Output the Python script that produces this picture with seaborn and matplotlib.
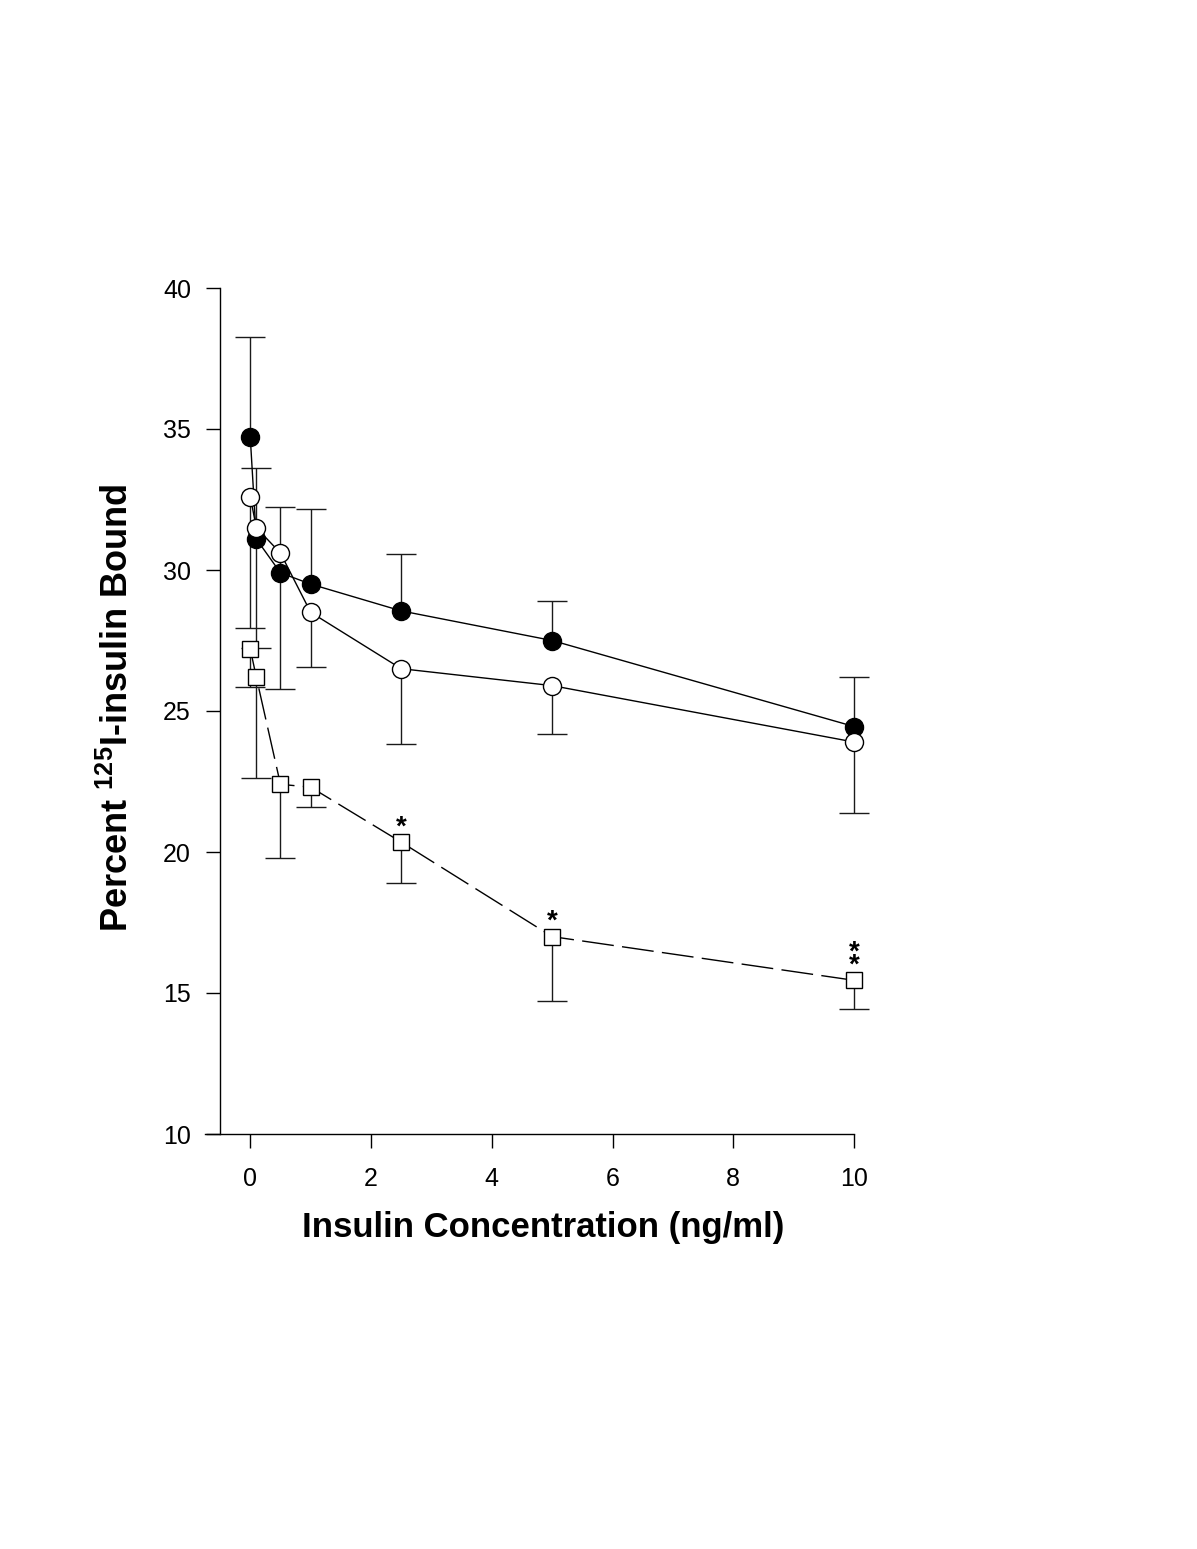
import numpy as np
import pandas as pd
import matplotlib
matplotlib.use('Agg')
import matplotlib.pyplot as plt
import seaborn as sns

# data
conc = [0, 0.1, 0.5, 1, 2.5, 5, 10]

filled_mean = [34.7, 31.1, 29.9, 29.5, 28.55, 27.5, 24.45]
filled_err_up = [3.57, 2.5, 2.32, 2.67, 2.03, 1.39, 1.77]

open_mean = [32.6, 31.5, 30.6, 28.5, 26.5, 25.9, 23.9]
open_err_down = [4.67, 4.25, 4.83, 1.93, 2.68, 1.73, 2.51]

square_mean = [27.2, 26.2, 22.4, 22.3, 20.35, 17.0, 15.45]
square_err_down = [1.34, 3.59, 2.61, 0.7, 1.46, 2.27, 1.03]

# significance marks on the square series: point index, number of stars
star_idx = [4, 5, 6]
star_count = [1, 1, 2]

x_ticks = [0, 2, 4, 6, 8, 10]
y_ticks = [10, 15, 20, 25, 30, 35, 40]

sns.set_style('ticks')
plt.rcParams['font.family'] = ['Liberation Sans', 'DejaVu Sans']
plt.rcParams['mathtext.fontset'] = 'custom'
plt.rcParams['mathtext.rm'] = 'Liberation Sans'
plt.rcParams['mathtext.bf'] = 'Liberation Sans:bold'
plt.rcParams['text.color'] = 'black'
plt.rcParams['axes.labelcolor'] = 'black'

W, H = 1197, 1549
fig = plt.figure(figsize=(W / 100, H / 100), dpi=100)
fig.patch.set_facecolor('white')
ax = fig.add_axes([205 / W, 1 - 1134 / H, (854 - 205) / W, (1134 - 288) / H])
ax.set_facecolor('white')

zeros = [0] * len(conc)
eb_kw = dict(fmt='none', ecolor='#1a1a1a', elinewidth=1.0, capsize=11, capthick=1.0, zorder=1)


def one_sided(mean, err, up):
    # one-sided error bars: hide the cap on the zero side
    yerr = [zeros, err] if up else [err, zeros]
    _, caps, bars = ax.errorbar(conc, mean, yerr=yerr, **eb_kw)
    caps[0 if up else 1].set_visible(False)
    for c in caps:
        c.set_clip_on(False)
    for b in bars:
        b.set_clip_on(False)


one_sided(filled_mean, filled_err_up, True)
one_sided(open_mean, open_err_down, False)
one_sided(square_mean, square_err_down, False)

df = pd.DataFrame({'conc': conc, 'filled': filled_mean, 'open': open_mean, 'square': square_mean})

sns.lineplot(data=df, x='conc', y='filled', ax=ax, color='black', lw=1.0,
             marker='o', markersize=13, markerfacecolor='black', markeredgecolor='black',
             markeredgewidth=1.0, zorder=3, clip_on=False)
sns.lineplot(data=df, x='conc', y='open', ax=ax, color='black', lw=1.0,
             marker='o', markersize=13, markerfacecolor='white', markeredgecolor='black',
             markeredgewidth=1.0, zorder=3, clip_on=False)
sns.lineplot(data=df, x='conc', y='square', ax=ax, color='black', lw=1.0,
             linestyle=(0, (23, 6)),
             marker='s', markersize=11.5, markerfacecolor='white', markeredgecolor='black',
             markeredgewidth=1.0, zorder=3, clip_on=False)

for i, n in zip(star_idx, star_count):
    ax.annotate('\n'.join(['*'] * n), xy=(conc[i], square_mean[i]), xytext=(0, 5.5),
                textcoords='offset points', ha='center', va='baseline', linespacing=0.36,
                fontsize=20, fontweight='bold', color='black', annotation_clip=False)

ax.set_xlim(-0.75, 10)
ax.set_ylim(10, 40)
ax.set_xticks(x_ticks)
ax.set_yticks(y_ticks)
ax.tick_params(axis='both', direction='out', length=10, width=1.0, color='black',
               labelsize=18, labelcolor='black')
ax.tick_params(axis='x', pad=14)
ax.tick_params(axis='y', pad=11)

for s in ['top', 'right']:
    ax.spines[s].set_visible(False)
for s in ['left', 'bottom']:
    ax.spines[s].set_color('black')
    ax.spines[s].set_linewidth(1.0)
ax.spines['left'].set_position(('data', -0.5))

ax.set_xlabel('Insulin Concentration (ng/ml)', fontsize=25, fontweight='bold', va='center')
ax.xaxis.set_label_coords((543 - 205) / 649, (1134 - 1228) / 846)
ax.set_ylabel(r'Percent $\mathbf{^{125}}$I-insulin Bound', fontsize=26, fontweight='bold', va='center')
ax.yaxis.set_label_coords((118 - 205) / 649, (1134 - 708) / 846)

fig.savefig('out.png', dpi=100, facecolor='white')
